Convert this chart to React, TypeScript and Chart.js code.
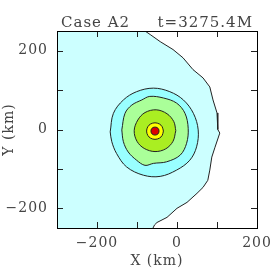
import React, { useEffect, useRef } from 'react';
import { Chart, registerables } from 'chart.js';

Chart.register(...registerables);

// ---- axis ranges & ticks ----
const xRange = [-300, 200];
const yRange = [-250, 250];
const xLabelValues = [-200, 0, 200];
const yLabelValues = [-200, 0, 200];
const xTickMarks = [-200, -100, 0, 100, 200];
const yTickMarks = [-200, -100, 0, 100, 200];
const xTitle = 'X (km)';
const yTitle = 'Y (km)';
const titleLeft = 'Case A2';
const titleRight = 't=3275.4M';

// ---- contour polygons (km) ----
const outerContour: [number, number][] = [
  [-400, 270], [-82, 270], [-80, 250], [-67, 241], [-42, 223], [-10, 203], [15, 182],
  [40, 152], [65, 131], [82, 108], [90, 75], [100, 42], [102, 0], [107, -9], [95, -45],
  [87, -70], [82, -103], [77, -129], [65, -147], [50, -162], [25, -185], [0, -200],
  [-25, -223], [-50, -236], [-56, -242], [-60, -250], [-62, -270], [-400, -270],
];
const cyanContour: [number, number][] = [
  [-167, -6], [-159, 41], [-134, 75], [-101, 96], [-59, 105], [-18, 96], [16, 75],
  [41, 41], [53, -1], [49, -44], [32, -78], [-1, -103], [-42, -119], [-84, -116],
  [-126, -95], [-151, -61], [-163, -31], [-167, -6],
];
const lightGreenContour: [number, number][] = [
  [-138, -1], [-130, 41], [-113, 62], [-88, 75], [-68, 84], [-34, 80], [-1, 67],
  [20, 41], [28, 3], [24, -35], [8, -65], [-26, -82], [-59, -86], [-80, -91],
  [-101, -78], [-122, -57], [-134, -31], [-138, -1],
];
const yellowGreenContour: [number, number][] = [
  [-3, -3], [-8, 20], [-25, 40], [-52, 50], [-80, 43], [-98, 24], [-107, -3],
  [-100, -30], [-82, -48], [-55, -56], [-28, -49], [-10, -30], [-3, -3],
];
const yellowContour: [number, number][] = [
  [-34, -4], [-37, 7], [-44, 14], [-55, 17], [-66, 14], [-73, 7], [-76, -4],
  [-73, -15], [-66, -22], [-55, -25], [-44, -22], [-37, -15], [-34, -4],
];
const redContour: [number, number][] = [
  [-45, -4], [-46, 1], [-50, 5], [-55, 6], [-60, 5], [-64, 1], [-65, -4],
  [-64, -9], [-60, -13], [-55, -14], [-50, -13], [-46, -9], [-45, -4],
];

const contours = [
  { data: outerContour, color: '#ccffff', smooth: 0 },
  { data: cyanContour, color: '#99ffff', smooth: 0.35 },
  { data: lightGreenContour, color: '#aaff99', smooth: 0.35 },
  { data: yellowGreenContour, color: '#aaee22', smooth: 0.35 },
  { data: yellowContour, color: '#ffff00', smooth: 0.35 },
  { data: redContour, color: '#dd0000', smooth: 0.35 },
];

const FONT = '"DejaVu Serif"';
const TEXT = '#444';
const LINE = '#222';

const contourFill = {
  id: 'contourFill',
  beforeDatasetDraw(chart: any, args: any) {
    const { ctx, chartArea: a } = chart;
    const meta = args.meta;
    const pts = meta.data;
    const ds = chart.data.datasets[args.index];
    if (!pts.length) return;
    ctx.save();
    ctx.beginPath();
    ctx.rect(a.left, a.top, a.right - a.left, a.bottom - a.top);
    ctx.clip();
    ctx.beginPath();
    const line = meta.dataset;
    if (line && typeof line.path === 'function') {
      if (typeof line.updateControlPoints === 'function') line.updateControlPoints(a, 'x');
      line.path(ctx);
    } else {
      pts.forEach((p: any, i: number) => (i ? ctx.lineTo(p.x, p.y) : ctx.moveTo(p.x, p.y)));
    }
    ctx.closePath();
    ctx.fillStyle = ds.backgroundColor;
    ctx.fill();
    ctx.restore();
  },
};

const frameAndTitle = {
  id: 'frameAndTitle',
  beforeDraw(chart: any) {
    chart.ctx.letterSpacing = '1px';
  },
  afterDatasetsDraw(chart: any) {
    const { ctx, chartArea: a, scales } = chart;
    ctx.save();
    ctx.strokeStyle = LINE;
    ctx.lineWidth = 1;
    const L = 6;
    ctx.beginPath();
    xTickMarks.forEach((v) => {
      const x = Math.round(scales.x.getPixelForValue(v)) + 0.5;
      ctx.moveTo(x, a.top);
      ctx.lineTo(x, a.top + L);
      ctx.moveTo(x, a.bottom);
      ctx.lineTo(x, a.bottom - L);
    });
    yTickMarks.forEach((v) => {
      const y = Math.round(scales.y.getPixelForValue(v)) + 0.5;
      ctx.moveTo(a.left, y);
      ctx.lineTo(a.left + L, y);
      ctx.moveTo(a.right, y);
      ctx.lineTo(a.right - L, y);
    });
    ctx.stroke();
    ctx.strokeStyle = '#000';
    ctx.strokeRect(Math.round(a.left) + 0.5, Math.round(a.top) + 0.5, Math.round(a.right - a.left), Math.round(a.bottom - a.top));
    ctx.restore();
  },
  afterDraw(chart: any) {
    const { ctx, chartArea: a } = chart;
    ctx.save();
    ctx.font = `15px ${FONT}`;
    ctx.letterSpacing = '1px';
    ctx.fillStyle = TEXT;
    ctx.textBaseline = 'alphabetic';
    ctx.textAlign = 'left';
    ctx.fillText(titleLeft, a.left + 4, a.top - 4);
    ctx.textAlign = 'right';
    ctx.fillText(titleRight, a.right - 4, a.top - 4);
    ctx.restore();
  },
};

const fmt = (v: number) => (v < 0 ? '\u2212' + Math.abs(v) : String(v));

export default function App() {
  const ref = useRef<HTMLCanvasElement>(null);
  useEffect(() => {
    if (!ref.current) return;
    const chart = new Chart(ref.current, {
      type: 'scatter',
      data: {
        datasets: contours
          .map((c) => ({
            data: c.data.map(([x, y]) => ({ x, y })),
            showLine: true,
            fill: false,
            tension: c.smooth,
            pointRadius: 0,
            borderColor: LINE,
            borderWidth: 1,
            backgroundColor: c.color,
          }))
          .reverse(),
      },
      options: {
        animation: false,
        responsive: false,
        events: [],
        layout: { padding: { top: 31, right: 13, left: 0, bottom: 0 } },
        plugins: { legend: { display: false }, tooltip: { enabled: false } },
        scales: {
          x: {
            type: 'linear',
            min: xRange[0],
            max: xRange[1],
            grid: { display: false, drawTicks: false },
            border: { display: false },
            afterBuildTicks: (s: any) => {
              s.ticks = xLabelValues.map((v) => ({ value: v }));
            },
            afterFit: (s: any) => {
              s.height = 42;
              s.paddingLeft = 0;
              s.paddingRight = 0;
            },
            ticks: {
              autoSkip: false,
              maxRotation: 0,
              padding: 7,
              color: TEXT,
              font: { family: FONT, size: 14 },
              callback: (v: any) => fmt(Number(v)),
            },
            title: {
              display: true,
              text: xTitle,
              color: TEXT,
              font: { family: FONT, size: 14 },
              padding: { top: 0, bottom: 0 },
            },
          },
          y: {
            type: 'linear',
            min: yRange[0],
            max: yRange[1],
            grid: { display: false, drawTicks: false },
            border: { display: false },
            afterBuildTicks: (s: any) => {
              s.ticks = yLabelValues.map((v) => ({ value: v }));
            },
            afterFit: (s: any) => {
              s.width = 57;
              s.paddingTop = 0;
              s.paddingBottom = 0;
            },
            ticks: {
              autoSkip: false,
              padding: 9,
              color: TEXT,
              font: { family: FONT, size: 14 },
              callback: (v: any) => fmt(Number(v)),
            },
            title: {
              display: true,
              text: yTitle,
              color: TEXT,
              font: { family: FONT, size: 14 },
              padding: { top: 1, bottom: 0 },
            },
          },
        },
      } as any,
      plugins: [contourFill, frameAndTitle],
    });
    return () => chart.destroy();
  }, []);
  return (
    <div style={{ position: 'fixed', left: 0, top: 0, width: 270, height: 270, background: '#fff' }}>
      <canvas ref={ref} width={270} height={270} style={{ display: 'block' }} />
    </div>
  );
}
